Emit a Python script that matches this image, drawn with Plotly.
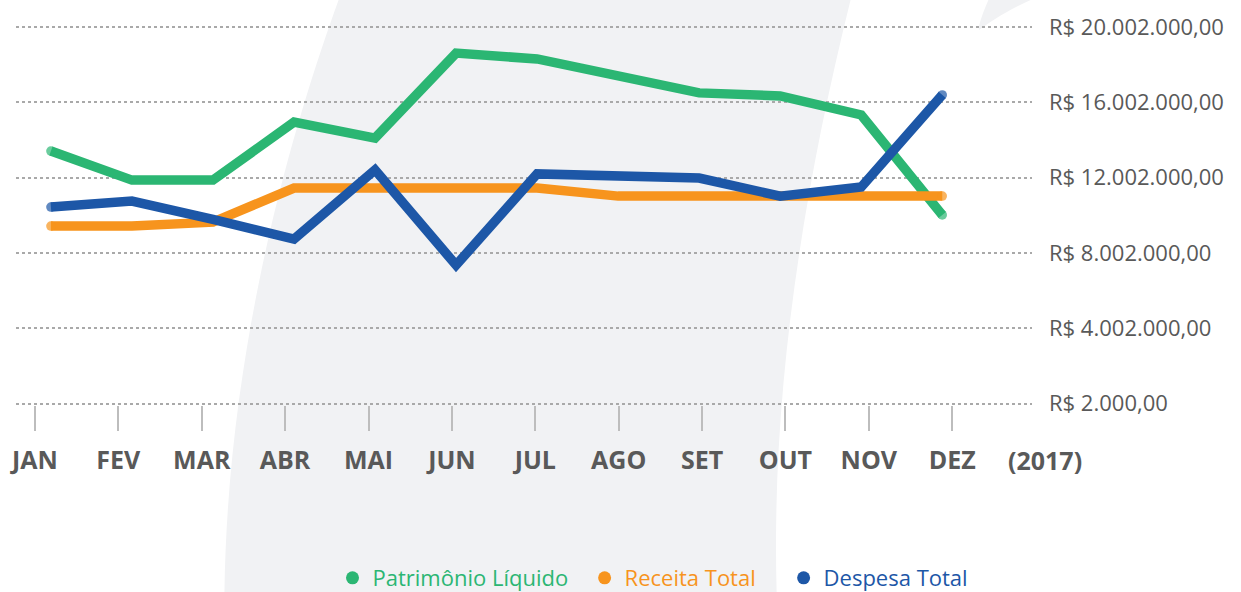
import plotly.graph_objects as go

# ---------------- data ----------------
months = ["JAN", "FEV", "MAR", "ABR", "MAI", "JUN", "JUL", "AGO", "SET", "OUT", "NOV", "DEZ"]
year_label = "(2017)"
patrimonio = [13.41e6, 11.87e6, 11.87e6, 14.95e6, 14.10e6, 18.61e6, 18.30e6, 17.38e6, 16.50e6, 16.34e6, 15.33e6, 10.02e6]
receita = [9.43e6, 9.43e6, 9.64e6, 11.45e6, 11.45e6, 11.45e6, 11.45e6, 11.02e6, 11.02e6, 11.02e6, 11.02e6, 11.02e6]
despesa = [10.44e6, 10.76e6, 9.78e6, 8.74e6, 12.41e6, 7.36e6, 12.20e6, 12.09e6, 11.98e6, 11.02e6, 11.50e6, 16.39e6]
y_ticks = [2000, 4002000, 8002000, 12002000, 16002000, 20002000]
y_tick_text = ["R$ 2.000,00", "R$ 4.002.000,00", "R$ 8.002.000,00",
               "R$ 12.002.000,00", "R$ 16.002.000,00", "R$ 20.002.000,00"]
series_names = ["Patrimônio Líquido", "Receita Total", "Despesa Total"]

# ---------------- style ----------------
GREEN, ORANGE, BLUE = "#2BB673", "#F7941D", "#1D57A7"
GRAY_TXT = "#595959"
GRID = "#A9A9A9"
BAND = "#F1F2F4"
FONT = "Open Sans"
LW = 9.5
NB = "\u00a0"
legend_pad = [2, 4, 0]   # extra non-breaking spaces after each legend name

W, H = 1241, 592
PL, PR, PT, PB = 13, 1032, 10, 405          # plot area in pixels
PW, PH = PR - PL, PB - PT

# data x axis: first month at 48px, last at 942px
s1 = (942 - 48) / 11
xr1 = [-(48 - PL) / s1, 11 + (PR - 942) / s1]
# label x axis: first tick at 32px, last at 952px
s2 = (952 - 32) / 11
xr2 = [-(32 - PL) / s2, 11 + (PR - 952) / s2]
# y axis: 2000 at 403.7px, 18.84 px per million
def yval(py):
    return 2000 + (403.7 - py) / 18.84 * 1e6
yr = [yval(PB), yval(PT)]

def px(x):
    return (x - PL) / PW
def py(y):
    return (PB - y) / PH

fig = go.Figure()
xs = list(range(len(months)))
cap_sizes = [LW] + [0] * (len(months) - 2) + [LW]   # round line caps
for vals, col, nm in [(patrimonio, GREEN, series_names[0]),
                      (receita, ORANGE, series_names[1]),
                      (despesa, BLUE, series_names[2])]:
    fig.add_trace(go.Scatter(x=xs, y=vals, mode="lines+markers", name=nm,
                             line=dict(color=col, width=LW),
                             marker=dict(color=col, size=cap_sizes, line=dict(width=0)),
                             showlegend=False, hoverinfo="skip"))

for col, nm, pad in [(GREEN, series_names[0], legend_pad[0]),
                     (ORANGE, series_names[1], legend_pad[1]),
                     (BLUE, series_names[2], legend_pad[2])]:
    fig.add_trace(go.Scatter(x=[None], y=[None], mode="markers", xaxis="x2",
                             marker=dict(color=col, size=13),
                             name=f'<span style="color:{col}">{nm}{NB * pad}</span>'))

# background decorative band
band = (f"M {px(338)},{py(-4)} C {px(300)},{py(100)} {px(225)},{py(330)} {px(222)},{py(596)} "
        f"L {px(776)},{py(596)} C {px(770)},{py(400)} {px(800)},{py(200)} {px(851)},{py(-4)} Z")
wedge = (f"M {px(990)},{py(-4)} C {px(984)},{py(10)} {px(978)},{py(24)} {px(979)},{py(30)} "
         f"C {px(992)},{py(20)} {px(1015)},{py(6)} {px(1040)},{py(-4)} Z")
for p in (band, wedge):
    fig.add_shape(type="path", path=p, xref="paper", yref="paper",
                  fillcolor=BAND, line=dict(width=0), layer="below")

fig.add_annotation(text=year_label, xref="paper", yref="paper",
                   x=px(1045), y=py(460), xanchor="center", yanchor="middle",
                   showarrow=False,
                   font=dict(family=FONT, size=25, color=GRAY_TXT, weight="bold"))

fig.update_layout(
    width=W, height=H,
    margin=dict(l=PL, r=W - PR, t=PT, b=H - PB, pad=0),
    paper_bgcolor="white", plot_bgcolor="rgba(0,0,0,0)",
    font=dict(family=FONT, color=GRAY_TXT),
    xaxis=dict(range=xr1, visible=False, showgrid=False, zeroline=False),
    xaxis2=dict(range=xr2, overlaying="x", side="bottom", anchor="y",
                tickmode="array", tickvals=xs, ticktext=months,
                ticks="outside", ticklen=25, tickwidth=2, tickcolor="#BDBDBD",
                showgrid=False, zeroline=False, showline=False,
                ticklabelstandoff=8,
                tickfont=dict(family=FONT, size=25, color=GRAY_TXT, weight="bold")),
    yaxis=dict(range=yr, side="right", tickmode="array", tickvals=y_ticks,
               ticktext=y_tick_text, showgrid=True, gridcolor=GRID, gridwidth=2,
               griddash="dot", zeroline=False, showline=False, ticks="",
               ticklabelstandoff=16,
               tickfont=dict(family=FONT, size=22, color=GRAY_TXT)),
    legend=dict(orientation="h", xref="container", yref="container",
                x=653 / W, y=1 - 578 / H, xanchor="center", yanchor="middle",
                font=dict(family=FONT, size=22), bgcolor="rgba(0,0,0,0)"),
    hovermode=False,
)

fig.write_html("out.html", config={"displayModeBar": False},
               post_script="document.body.style.margin='0';document.body.style.overflow='hidden';")
